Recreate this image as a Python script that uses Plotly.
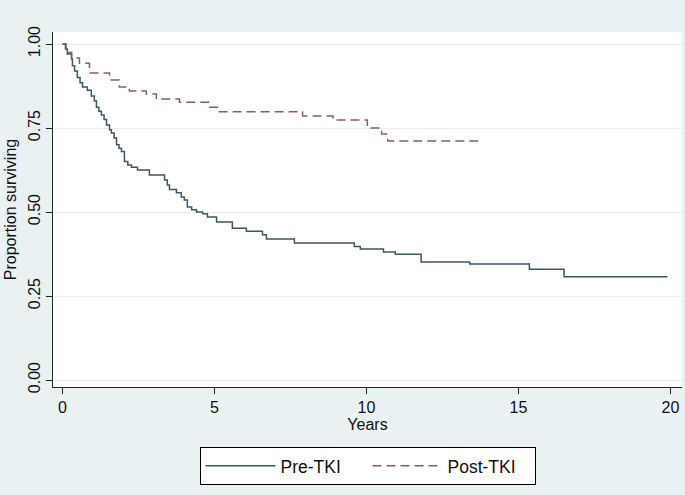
import plotly.graph_objects as go

# Kaplan-Meier step data
pre_t = [0, 0.1, 0.16, 0.3, 0.33, 0.4, 0.49, 0.58, 0.66, 0.82, 0.95, 1.05, 1.12, 1.2, 1.28,
         1.37, 1.45, 1.55, 1.61, 1.7, 1.78, 1.86, 1.94, 2.04, 2.15, 2.27, 2.47, 2.86, 3.36,
         3.45, 3.52, 3.75, 3.91, 4.01, 4.11, 4.25, 4.41, 4.61, 4.77, 5.07, 5.59, 6.05, 6.58,
         6.71, 7.63, 9.6, 9.8, 10.56, 10.95, 11.8, 13.4, 15.36, 16.5, 19.9]
pre_s = [1.0, 0.985, 0.97, 0.955, 0.935, 0.92, 0.90, 0.885, 0.872, 0.862, 0.845, 0.83, 0.812,
         0.80, 0.789, 0.775, 0.759, 0.745, 0.735, 0.72, 0.70, 0.69, 0.68, 0.65, 0.64, 0.633,
         0.625, 0.610, 0.595, 0.58, 0.567, 0.557, 0.545, 0.536, 0.515, 0.507, 0.50, 0.495,
         0.485, 0.470, 0.452, 0.443, 0.432, 0.420, 0.408, 0.397, 0.39, 0.381, 0.374, 0.351,
         0.345, 0.330, 0.307, 0.307]

post_t = [0, 0.12, 0.3, 0.56, 0.89, 1.55, 1.87, 2.2, 2.76, 3.09, 3.85, 4.84, 5.1, 7.9, 8.9,
          10.03, 10.5, 10.7, 13.8]
post_s = [1.0, 0.975, 0.958, 0.943, 0.914, 0.893, 0.872, 0.860, 0.851, 0.836, 0.827, 0.812,
          0.798, 0.786, 0.774, 0.75, 0.732, 0.711, 0.711]

x_ticks = [0, 5, 10, 15, 20]
y_ticks = [0, 0.25, 0.5, 0.75, 1.0]
y_tick_text = ["0.00", "0.25", "0.50", "0.75", "1.00"]

FONT = "Liberation Sans, Arial, sans-serif"

fig = go.Figure()
fig.add_trace(go.Scatter(x=pre_t, y=pre_s, mode="lines", name="Pre-TKI",
                         line=dict(color="#3c5766", width=1.5, shape="hv")))
fig.add_trace(go.Scatter(x=post_t, y=post_s, mode="lines", name="Post-TKI",
                         line=dict(color="#8b5c61", width=1.5, shape="hv", dash="9px,5px")))

fig.update_layout(
    width=685, height=495, autosize=False,
    margin=dict(l=53, r=3, t=32, b=108, autoexpand=False),
    paper_bgcolor="#e9f1f3", plot_bgcolor="#ffffff",
    font=dict(family=FONT, size=16, color="#111111"),
    showlegend=True,
    legend=dict(orientation="h", x=0.5, xanchor="center", y=-0.169, yanchor="top",
                bgcolor="#ffffff", bordercolor="#000000", borderwidth=1,
                font=dict(size=17.5), itemwidth=70, entrywidth=82,
                traceorder="normal"),
    xaxis=dict(range=[-0.31, 20.38], tickvals=x_ticks, ticks="outside", ticklen=6,
               tickcolor="#222222", showline=True, linecolor="#222222", linewidth=1.2,
               showgrid=False, zeroline=False, automargin=False,
               title=dict(text="Years", standoff=2, font=dict(size=16)),
               tickfont=dict(size=16)),
    yaxis=dict(range=[-0.0208, 1.0357], tickvals=y_ticks, ticktext=y_tick_text,
               ticks="outside", ticklen=6, tickcolor="#222222", showline=True,
               linecolor="#222222", linewidth=1.2, showgrid=True, gridcolor="#ececec",
               gridwidth=1, zeroline=False, tickangle=-90, automargin=False,
               title=dict(text="Proportion surviving", standoff=4, font=dict(size=16)),
               tickfont=dict(size=16)),
)

fig.write_html("out.html", config={"displayModeBar": False},
               post_script="document.body.style.margin='0';document.body.style.background='#e9f1f3';")
